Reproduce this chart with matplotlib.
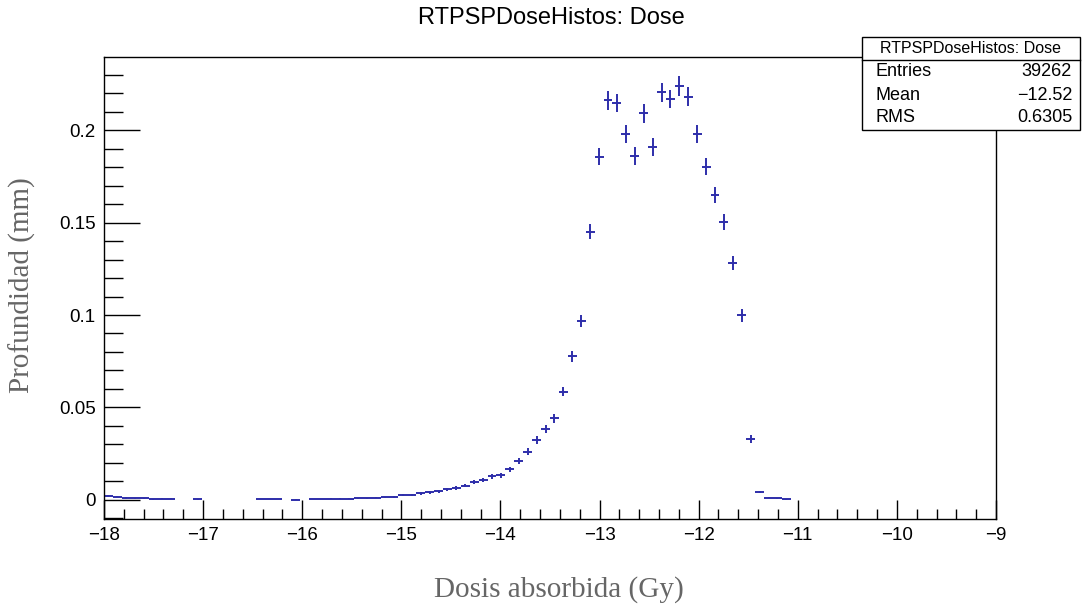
import numpy as np
import matplotlib
matplotlib.use("Agg")
import matplotlib.pyplot as plt
from matplotlib.patches import Rectangle
from matplotlib.ticker import MultipleLocator, FuncFormatter

# histogram definition: 100 bins between -18 and -9 Gy
n_bins = 100
x_low, x_high = -18.0, -9.0

# bin contents (0 = empty bin, not drawn)
contents = [
    0.0023, 0.0018, 0.0010, 0.0009, 0.0008, 0.0004, 0.0006, 0.0006, 0.0, 0.0,
    0.0004, 0.0, 0.0, 0.0, 0.0, 0.0, 0.0, 0.0005, 0.0005, 0.0005,
    0.0, 0.0002, 0.0, 0.0005, 0.0005, 0.0007, 0.0007, 0.0007, 0.0008, 0.0008,
    0.0012, 0.0014, 0.0016, 0.0025, 0.0028, 0.0035, 0.0041, 0.0047, 0.0057, 0.0064,
    0.0077, 0.0098, 0.0108, 0.0128, 0.0133, 0.0166, 0.0213, 0.0261, 0.0324, 0.0382,
    0.0441, 0.0586, 0.0777, 0.0968, 0.1450, 0.1856, 0.2162, 0.2146, 0.1978, 0.1861,
    0.2090, 0.1910, 0.2204, 0.2168, 0.2238, 0.2180, 0.1977, 0.1802, 0.1649, 0.1504,
    0.1280, 0.0998, 0.0330, 0.0043, 0.0012, 0.0008, 0.0004, 0.0, 0.0, 0.0,
    0.0, 0.0, 0.0, 0.0, 0.0, 0.0, 0.0, 0.0, 0.0, 0.0,
    0.0, 0.0, 0.0, 0.0, 0.0, 0.0, 0.0, 0.0, 0.0, 0.0,
]
weight = 1.2e-4  # per-entry weight, errors are sqrt(sum w^2) like ROOT

stats_title = "RTPSPDoseHistos: Dose"
stats_names = ["Entries", "Mean", "RMS"]
stats_values = ["39262", "\u221212.52", "0.6305"]

title = "RTPSPDoseHistos: Dose"
xlabel = "Dosis absorbida (Gy)"
ylabel = "Profundidad (mm)"

W, H = 1087, 608
fig = plt.figure(figsize=(W / 100, H / 100), dpi=100)
ax = fig.add_axes([104 / W, 1 - 519 / H, (996 - 104) / W, (519 - 57) / H])

edges = np.linspace(x_low, x_high, n_bins + 1)
centers = 0.5 * (edges[:-1] + edges[1:])
width = edges[1] - edges[0]
vals = np.array(contents)
errs = np.sqrt(vals * weight)
mask = vals > 0

col = "#2e2eaa"
ax.errorbar(centers[mask], vals[mask], xerr=width / 2, yerr=errs[mask], fmt="none",
            ecolor=col, elinewidth=1.4, capsize=0)

ax.set_xlim(x_low, x_high)
ax.set_ylim(-0.0103, 0.2395)

sans = "Liberation Sans"
serif = "Liberation Serif"
ax.xaxis.set_major_locator(MultipleLocator(1))
ax.xaxis.set_minor_locator(MultipleLocator(0.2))
ax.yaxis.set_major_locator(MultipleLocator(0.05))
ax.yaxis.set_minor_locator(MultipleLocator(0.01))
ax.yaxis.set_major_formatter(FuncFormatter(lambda v, p: "%g" % round(v, 4)))
ax.xaxis.set_major_formatter(FuncFormatter(lambda v, p: ("%g" % v).replace("-", "\u2212")))
ax.tick_params(axis="x", which="major", direction="in", length=14, width=1, pad=6)
ax.tick_params(axis="x", which="minor", direction="in", length=7, width=1)
ax.tick_params(axis="y", which="major", direction="in", length=26, width=1, pad=6)
ax.tick_params(axis="y", which="minor", direction="in", length=14, width=1)
ax.tick_params(top=False, right=False, which="both", labelsize=13.5)
for lab in ax.get_xticklabels() + ax.get_yticklabels():
    lab.set_family(sans)
for s in ax.spines.values():
    s.set_linewidth(1)

fig.text(551 / W, 1 - 18 / H, title, ha="center", va="center", family=sans, fontsize=17)
fig.text(559 / W, 1 - 590 / H, xlabel, ha="center", va="center", family=serif,
         fontsize=21, color="#666666")
fig.text(22 / W, 1 - 285 / H, ylabel, ha="center", va="center", rotation=90,
         family=serif, fontsize=21, color="#666666")

# statistics box
bx0, bx1, by0, by1, bsep = 862, 1080, 37, 130, 60
fig.patches.append(Rectangle((bx0 / W, 1 - by1 / H), (bx1 - bx0) / W, (by1 - by0) / H,
                             transform=fig.transFigure, facecolor="white",
                             edgecolor="black", linewidth=1, zorder=5))
fig.add_artist(plt.Line2D([bx0 / W, bx1 / W], [1 - bsep / H, 1 - bsep / H],
                          transform=fig.transFigure, color="black", linewidth=1, zorder=6))
fig.text((bx0 + bx1) / 2 / W, 1 - 48.5 / H, stats_title, ha="center", va="center",
         family=sans, fontsize=11.5, zorder=7)
for i, (n, v) in enumerate(zip(stats_names, stats_values)):
    yy = 1 - (72 + 23 * i) / H
    fig.text(875 / W, yy, n, ha="left", va="center", family=sans, fontsize=13, zorder=7)
    fig.text(1072 / W, yy, v, ha="right", va="center", family=sans, fontsize=13, zorder=7)

fig.savefig("out.png", dpi=100)
